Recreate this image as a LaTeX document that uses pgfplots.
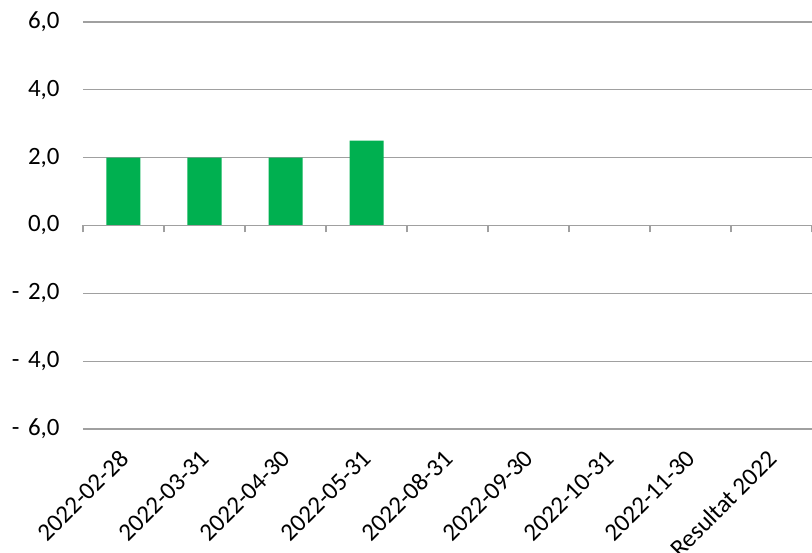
\documentclass[border=0pt]{standalone}
\usepackage{pgfplots}
\pgfplotsset{compat=1.18}
\usepackage{fontspec}
\setmainfont{Carlito}
\definecolor{bargreen}{RGB}{0,176,80}
\definecolor{gridgray}{RGB}{160,160,160}
\begin{document}
\begin{tikzpicture}
\begin{axis}[
  name=a,
  at={(0,0)}, anchor=south west,
  scale only axis,
  width=729bp, height=407bp,
  xmin=0.5, xmax=9.5,
  ymin=-6, ymax=6,
  axis x line*=bottom, axis y line*=left,
  axis line style={draw=none},
  ytick={-6,-4,-2,0,2,4,6},
  yticklabels={{-\hspace{3bp} 6,0},{-\hspace{3bp} 4,0},{-\hspace{3bp} 2,0},{0,0},{2,0},{4,0},{6,0}},
  ymajorgrids,
  grid style={gridgray, line width=1.2bp},
  xtick={1,2,3,4,5,6,7,8,9},
  xticklabels={2022-02-28,2022-03-31,2022-04-30,2022-05-31,2022-08-31,2022-09-30,2022-10-31,2022-11-30,Resultat 2022},
  tick style={draw=none},
  tick label style={font=\fontsize{25}{30}\selectfont},
  yticklabel style={xshift=-20bp},
  xticklabel style={xshift=3bp, yshift=-23bp, rotate=45, anchor=east},
]
\addplot[ybar, bar width=34bp, fill=bargreen, draw=none] coordinates {
  (1,2.0) (2,2.0) (3,2.0) (4,2.5)
};
\end{axis}
\begin{axis}[
  at={(0,0)}, anchor=south west,
  scale only axis,
  width=729bp, height=407bp,
  xmin=0.5, xmax=9.5,
  ymin=-6, ymax=6,
  axis x line=middle, axis y line=none,
  axis line style={-, gridgray, line width=1.2bp},
  xtick={0.5,1.5,2.5,3.5,4.5,5.5,6.5,7.5,8.5,9.5},
  xticklabels={},
  ytick=\empty,
  tick align=outside,
  major tick length=7bp,
  tick style={gridgray, line width=1.2bp},
]
\end{axis}
\pgfresetboundingbox
\path ([shift={(-83bp,-124bp)}]a.south west) rectangle ([shift={(0bp,22bp)}]a.north east);
\end{tikzpicture}
\end{document}
